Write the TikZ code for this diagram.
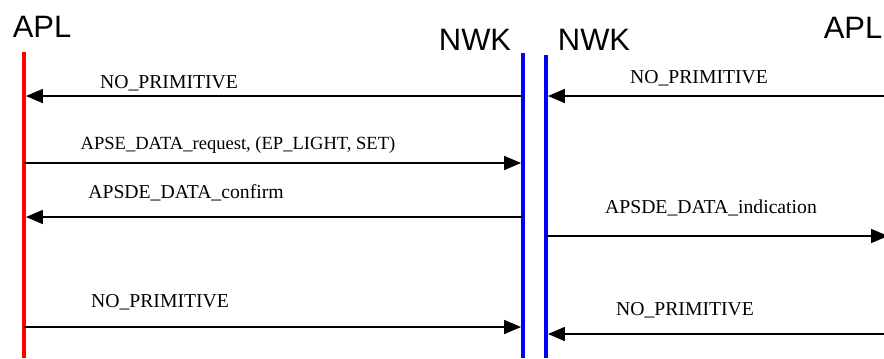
\documentclass[tikz,border=0pt]{standalone}
\usepackage{fontspec}
\setmainfont{Liberation Serif}
\newfontfamily\headfont{Liberation Sans}
\usetikzlibrary{arrows.meta}
\tikzset{
  head/.style = {font=\headfont\fontsize{22}{24}\selectfont, anchor=base, inner sep=0pt},
  lbl/.style = {font=\fontsize{14}{16}\selectfont, anchor=base, inner sep=0pt},
  aplline/.style = {draw=red, line width=2.8pt},
  nwkline/.style = {draw=blue, line width=2.8pt},
  msg/.style = {thick, -{Triangle[length=12pt, width=10pt]}}
}

\begin{document}
\begin{tikzpicture}[x=0.025cm, y=-0.025cm]
            \useasboundingbox (0,0) rectangle (884,358);
            % lifelines
            \coordinate (aplL) at (24,52);
            \coordinate (nwkL) at (523,53);
            \coordinate (nwkR) at (546,55);
            \coordinate (aplR) at (888,52);
            \draw[aplline] (aplL) -- (aplL |- 0,358);
            \draw[nwkline] (nwkL) -- (nwkL |- 0,358);
            \draw[nwkline] (nwkR) -- (nwkR |- 0,358);
            % headings
            \node[head] (hAplL) at (42,37) {APL};
            \node[head] (hNwkL) at (475,50) {NWK};
            \node[head] (hNwkR) at (594,50) {NWK};
            \node[head] (hAplR) at (853,38) {APL};
            % message rows
            \coordinate (r1) at (0,96);
            \coordinate (r2) at (0,163);
            \coordinate (r3) at (0,217);
            \coordinate (r4) at (0,236);
            \coordinate (r5) at (0,327);
            \coordinate (r6) at (0,334);
            \draw[msg, shorten >=1.4pt] (nwkL |- r1) -- (aplL |- r1);
            \draw[msg, shorten >=1.4pt] (aplR |- r1) -- (nwkR |- r1);
            \draw[msg, shorten >=1.4pt] (aplL |- r2) -- (nwkL |- r2);
            \draw[msg, shorten >=1.4pt] (nwkL |- r3) -- (aplL |- r3);
            \draw[msg] (nwkR |- r4) -- (aplR |- r4);
            \draw[msg, shorten >=1.4pt] (aplL |- r5) -- (nwkL |- r5);
            \draw[msg, shorten >=1.4pt] (aplR |- r6) -- (nwkR |- r6);
            % message names
            \node[lbl] (m1) at (169,88) {NO\_PRIMITIVE};
            \node[lbl] (m2) at (699,83) {NO\_PRIMITIVE};
            \node[lbl, font=\fontsize{13.2}{16}\selectfont] (m3) at (238,149) {APSE\_DATA\_request, (EP\_LIGHT, SET)};
            \node[lbl] (m4) at (186,198) {APSDE\_DATA\_confirm};
            \node[lbl] (m5) at (711,213) {APSDE\_DATA\_indication};
            \node[lbl] (m6) at (160,307) {NO\_PRIMITIVE};
            \node[lbl] (m7) at (685,315) {NO\_PRIMITIVE};
        \end{tikzpicture}
\end{document}
